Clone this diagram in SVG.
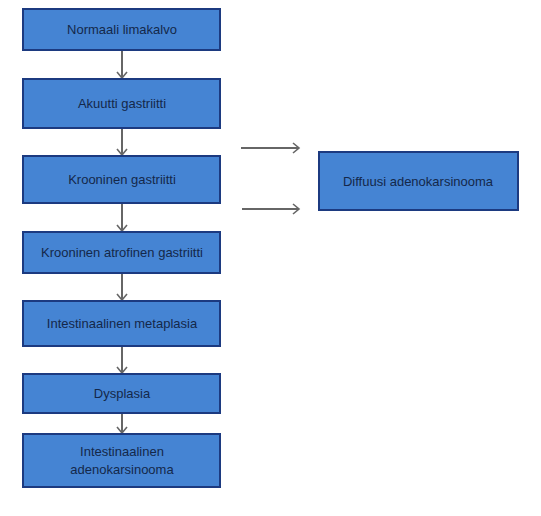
<svg xmlns="http://www.w3.org/2000/svg" width="541" height="516" viewBox="0 0 541 516">
<style>
.box{fill:#4584d3;stroke:#1c3a80;stroke-width:2}
.t{font-family:"Liberation Sans",Arial,sans-serif;font-size:13px;fill:#14284a;text-anchor:middle}
.c{stroke:#666666;stroke-width:2;fill:none}
.h{stroke:#666666;stroke-width:1.6;fill:none}
</style>
<rect width="541" height="516" fill="#ffffff"/>
<g id="connectors">
<line class="c" x1="122" y1="50" x2="122" y2="78"/><polyline class="h" points="117,72 122,78 127,72"/>
<line class="c" x1="122" y1="128" x2="122" y2="155"/><polyline class="h" points="117,149 122,155 127,149"/>
<line class="c" x1="122" y1="203" x2="122" y2="231"/><polyline class="h" points="117,225 122,231 127,225"/>
<line class="c" x1="122" y1="273" x2="122" y2="300"/><polyline class="h" points="117,294 122,300 127,294"/>
<line class="c" x1="122" y1="346" x2="122" y2="373"/><polyline class="h" points="117,367 122,373 127,367"/>
<line class="c" x1="122" y1="413" x2="122" y2="433"/><polyline class="h" points="117,427 122,433 127,427"/>
<line class="c" x1="241" y1="148" x2="299" y2="148"/><polyline class="h" points="293,143 299,148 293,153"/>
<line class="c" x1="242" y1="209" x2="299" y2="209"/><polyline class="h" points="293,204 299,209 293,214"/>
</g>
<g id="n1"><rect class="box" x="23" y="9" width="197" height="41"/><text class="t" x="122" y="34">Normaali limakalvo</text></g>
<g id="n2"><rect class="box" x="23" y="79" width="197" height="49"/><text class="t" x="122" y="108">Akuutti gastriitti</text></g>
<g id="n3"><rect class="box" x="23" y="156" width="197" height="47"/><text class="t" x="122" y="184">Krooninen gastriitti</text></g>
<g id="n4"><rect class="box" x="23" y="232" width="197" height="41"/><text class="t" x="122" y="257">Krooninen atrofinen gastriitti</text></g>
<g id="n5"><rect class="box" x="23" y="301" width="197" height="45"/><text class="t" x="122" y="328">Intestinaalinen metaplasia</text></g>
<g id="n6"><rect class="box" x="23" y="374" width="197" height="39"/><text class="t" x="122" y="398">Dysplasia</text></g>
<g id="n7"><rect class="box" x="23" y="434" width="197" height="53"/><text class="t" x="122" y="456">Intestinaalinen</text><text class="t" x="122" y="474">adenokarsinooma</text></g>
<g id="n8"><rect class="box" x="319" y="152" width="199" height="58"/><text class="t" x="418" y="186">Diffuusi adenokarsinooma</text></g>
</svg>
